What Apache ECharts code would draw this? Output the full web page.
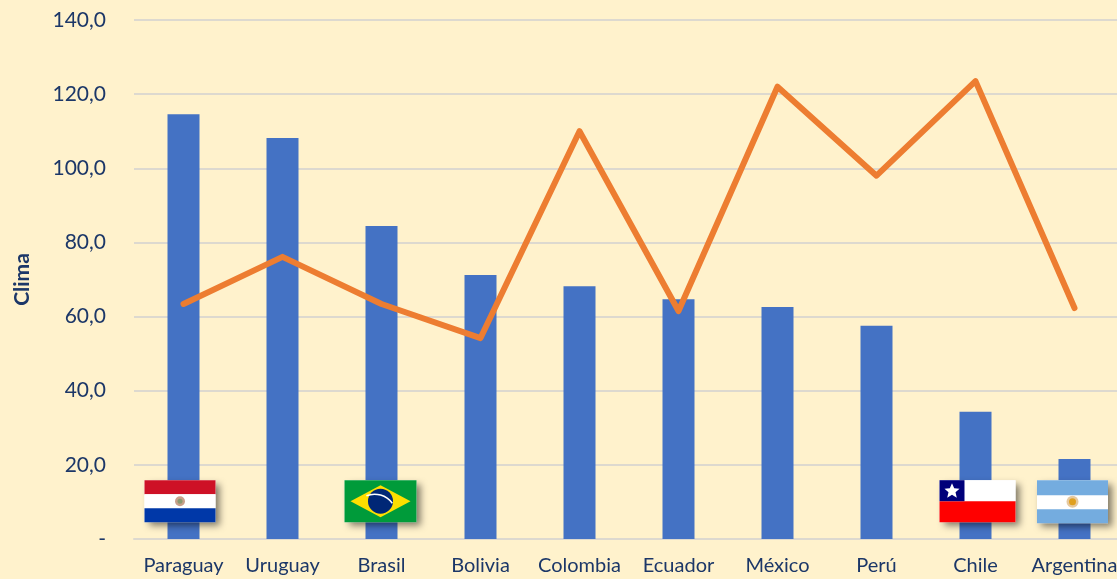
<!DOCTYPE html>
<html><head><meta charset="utf-8">
<style>html,body{margin:0;padding:0;background:#FFF2CC;overflow:hidden}#c{width:1117px;height:579px}</style>
<script src="https://cdn.jsdelivr.net/npm/echarts@6/dist/echarts.min.js"></script>
</head><body><div id="c"></div>
<script>
const categories=["Paraguay","Uruguay","Brasil","Bolivia","Colombia","Ecuador","México","Perú","Chile","Argentina"];
const barValues=[114.6,108.2,84.4,71.2,68.2,64.7,62.6,57.5,34.3,21.6];
const lineValues=[63.4,76.1,63.4,54.2,110,61.5,122,98,123.5,62.3];
const flagCountries=["Paraguay","Brasil","Chile","Argentina"];
const flagHeightValue=10.2;
const ink="#1C3768";
const shadow={shadowBlur:7,shadowColor:"rgba(0,0,0,0.5)",shadowOffsetX:4,shadowOffsetY:4};
function rect(x,y,w,h,fill,extra){return Object.assign({type:"rect",shape:{x,y,width:w,height:h},style:{fill}},extra||{});}
function flagParts(name){
  if(name==="Paraguay")return {dx:-3.5,w:71,parts:[
    rect(0,0,71,14,"#CE1126"),rect(0,14,71,14,"#FFFFFF"),rect(0,28,71,14,"#0038A8"),
    {type:"circle",shape:{cx:35.5,cy:21,r:5},style:{fill:"#C9A08A"}},{type:"circle",shape:{cx:35.5,cy:21,r:2.5},style:{fill:"#8A9A70"}}]};
  if(name==="Brasil")return {dx:-1,w:72,parts:[
    rect(0,0,72,42,"#009B3A"),
    {type:"polygon",shape:{points:[[36,5],[66,21],[36,37],[6,21]]},style:{fill:"#FEDF00"}},
    {type:"circle",shape:{cx:36,cy:21,r:12.5},style:{fill:"#002776"}},
    {type:"arc",shape:{cx:30,cy:36,r:22,startAngle:-Math.PI*0.62,endAngle:-Math.PI*0.2},style:{stroke:"#FFFFFF",lineWidth:1.5,fill:null}}]};
  if(name==="Chile")return {dx:2,w:76,parts:[
    rect(0,0,76,21,"#FFFFFF"),rect(0,21,76,21,"#FF0000"),rect(0,0,25,21,"#00007A"),
    {type:"polygon",shape:{points:[[12.5,3],[14.7,8],[20,8.5],[16,12],[17.3,17.5],[12.5,14.6],[7.7,17.5],[9,12],[5,8.5],[10.3,8]]},style:{fill:"#FFFFFF"}}]};
  return {dx:-2,w:71,parts:[
    rect(0,0,71,43,"#74ACDF"),rect(0,15,71,14,"#FFFFFF"),
    {type:"circle",shape:{cx:35.5,cy:21.5,r:6},style:{fill:"#E6C9A0"}},{type:"circle",shape:{cx:35.5,cy:21.5,r:3.5},style:{fill:"#E0A020"}}]};
}
function renderFlag(params,api){
  const p=api.coord([api.value(0),api.value(1)]);
  const f=flagParts(categories[api.value(0)]);
  const bg=rect(0,0,f.w,f.parts[0].shape.height===43?43:42,"#FFFFFF",{style:Object.assign({fill:"#FFFFFF"},shadow)});
  return {type:"group",x:p[0]+f.dx-f.w/2,y:p[1]-21,children:[bg].concat(f.parts)};
}
const chart=echarts.init(document.getElementById("c"),null,{renderer:"canvas"});
chart.setOption({
  animation:false,
  backgroundColor:"#FFF2CC",
  textStyle:{fontFamily:"Lato"},
  grid:{left:134,width:990,top:20,height:519,containLabel:false,outerBoundsMode:"none"},
  xAxis:{type:"category",data:categories,
    axisTick:{show:false},
    axisLine:{lineStyle:{color:"#DDD9CF",width:2}},
    axisLabel:{color:ink,fontSize:20,fontFamily:"Lato",margin:17,interval:0,hideOverlap:false}},
  yAxis:{type:"value",min:0,max:140,interval:20,
    name:"Clima",nameLocation:"middle",nameGap:101,nameRotate:90,
    nameTextStyle:{color:ink,fontSize:21,fontWeight:"bold",fontFamily:"Lato"},
    axisLine:{show:false},axisTick:{show:false},
    splitLine:{lineStyle:{color:"#DDD9CF",width:2}},
    axisLabel:{color:ink,fontSize:21,fontFamily:"Lato",margin:28,
      formatter:v=>v===0?"-":v.toFixed(1).replace(".",",")}},
  series:[
    {type:"bar",data:barValues,barWidth:32,itemStyle:{color:"#4472C4"},z:2},
    {type:"line",data:lineValues,symbol:"none",lineStyle:{color:"#ED7D31",width:6,cap:"round",join:"round"},z:3},
    {type:"custom",renderItem:renderFlag,z:4,silent:true,
     data:flagCountries.map(n=>[categories.indexOf(n),flagHeightValue])}
  ]
});
</script></body></html>
